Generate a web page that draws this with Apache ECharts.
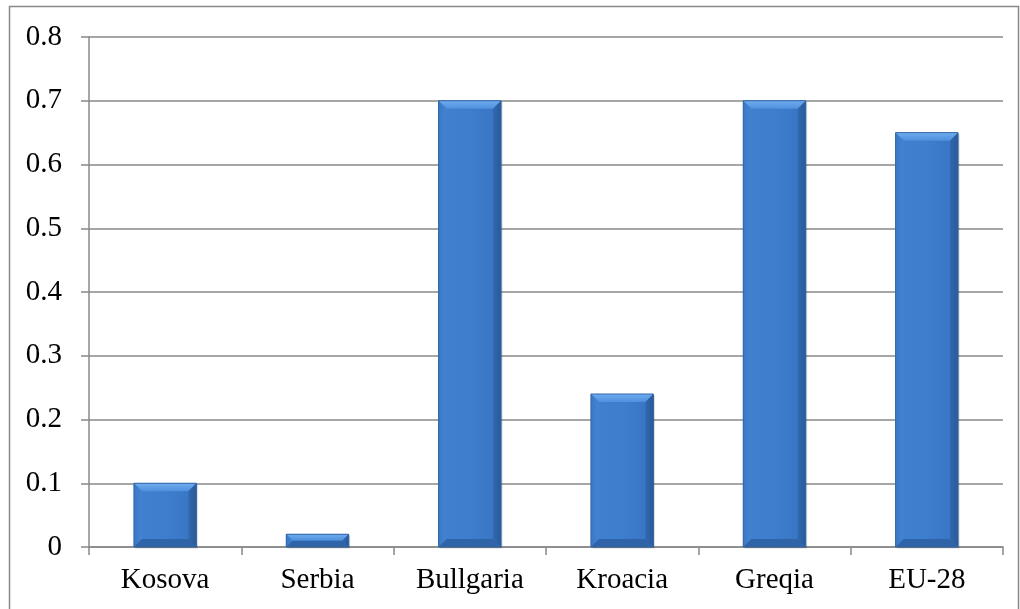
<!DOCTYPE html>
<html>
<head>
<meta charset="utf-8">
<script src="https://cdn.jsdelivr.net/npm/echarts@6/dist/echarts.min.js"></script>
<style>
  html, body { margin: 0; padding: 0; background: #fff; }
  #chart { width: 1020px; height: 609px; }
</style>
</head>
<body>
<div id="chart"></div>
<script>
const categories = ['Kosova', 'Serbia', 'Bullgaria', 'Kroacia', 'Greqia', 'EU-28']
const values = [0.1, 0.02, 0.7, 0.24, 0.7, 0.65]
const yTicks = [0, 0.1, 0.2, 0.3, 0.4, 0.5, 0.6, 0.7, 0.8]

const chart = echarts.init(document.getElementById('chart'))

// bevelled bar, like the office chart style
function renderBar (params, api) {
  const top = api.coord([api.value(0), api.value(1)])
  const base = api.coord([api.value(0), 0])
  const w = api.size([1, 0])[0] * 0.41
  const x0 = top[0] - w / 2
  const x1 = top[0] + w / 2
  const y0 = top[1]
  const y1 = base[1]
  const b = Math.min(8, (y1 - y0) / 2)
  return {
    type: 'group',
    children: [
      { type: 'rect', shape: { x: x0 + 1.5, y: y0 + 1.5, width: w, height: y1 - y0 },
        style: { fill: 'rgba(0,0,0,0.15)' } },
      { type: 'rect', shape: { x: x0, y: y0, width: w, height: y1 - y0 },
        style: { fill: new echarts.graphic.LinearGradient(0, 0, 1, 0, [
          { offset: 0, color: '#3f7fce' }, { offset: 0.5, color: '#3d7ecd' }, { offset: 1, color: '#3874c2' }]) } },
      { type: 'polygon', shape: { points: [[x0, y0], [x1, y0], [x1 - b, y0 + b], [x0 + b, y0 + b]] },
        style: { fill: new echarts.graphic.LinearGradient(0, 0, 0, 1, [
          { offset: 0, color: '#6fadf0' }, { offset: 1, color: '#4f90dd' }]) } },
      { type: 'polygon', shape: { points: [[x0, y0], [x0 + b, y0 + b], [x0 + b, y1 - b], [x0, y1]] },
        style: { fill: new echarts.graphic.LinearGradient(0, 0, 1, 0, [
          { offset: 0, color: '#3a78c6' }, { offset: 1, color: '#4384d2' }]) } },
      { type: 'polygon', shape: { points: [[x1, y0], [x1, y1], [x1 - b, y1 - b], [x1 - b, y0 + b]] },
        style: { fill: new echarts.graphic.LinearGradient(0, 0, 1, 0, [
          { offset: 0, color: '#3168b0' }, { offset: 1, color: '#2a5a98' }]) } },
      { type: 'polygon', shape: { points: [[x0, y1], [x0 + b, y1 - b], [x1 - b, y1 - b], [x1, y1]] },
        style: { fill: '#2f64a8' } },
      { type: 'rect', shape: { x: x0, y: y0, width: w, height: y1 - y0 },
        style: { fill: null, stroke: '#3264a3', lineWidth: 1 } }
    ]
  }
}

const option = {
  animation: false,
  textStyle: { fontFamily: 'Liberation Serif' },
  graphic: [{
    type: 'rect',
    shape: { x: 9.5, y: 6.5, width: 1009, height: 610 },
    style: { fill: null, stroke: '#888', lineWidth: 1.5 }
  }],
  grid: { left: 89, right: 17, top: 37, bottom: 62 },
  xAxis: {
    type: 'category',
    data: categories,
    axisLine: { lineStyle: { color: '#888', width: 1.5 } },
    axisTick: { show: true, length: 8, lineStyle: { color: '#888', width: 1.5 } },
    axisLabel: { color: '#000', fontSize: 29, margin: 19, fontFamily: 'Liberation Serif' }
  },
  yAxis: {
    type: 'value',
    min: 0,
    max: 0.8,
    interval: 0.1,
    axisLine: { show: true, lineStyle: { color: '#888', width: 1.5 } },
    axisTick: { show: true, length: 8, lineStyle: { color: '#888', width: 1.5 } },
    splitLine: { lineStyle: { color: '#888', width: 1.5 } },
    axisLabel: {
      color: '#000', fontSize: 29, margin: 27, fontFamily: 'Liberation Serif',
      formatter: v => yTicks.includes(+v.toFixed(1)) ? String(+v.toFixed(1)) : ''
    }
  },
  series: [{
    type: 'custom',
    renderItem: renderBar,
    encode: { x: 0, y: 1 },
    data: values.map((v, i) => [i, v])
  }]
}
chart.setOption(option)
</script>
</body>
</html>
